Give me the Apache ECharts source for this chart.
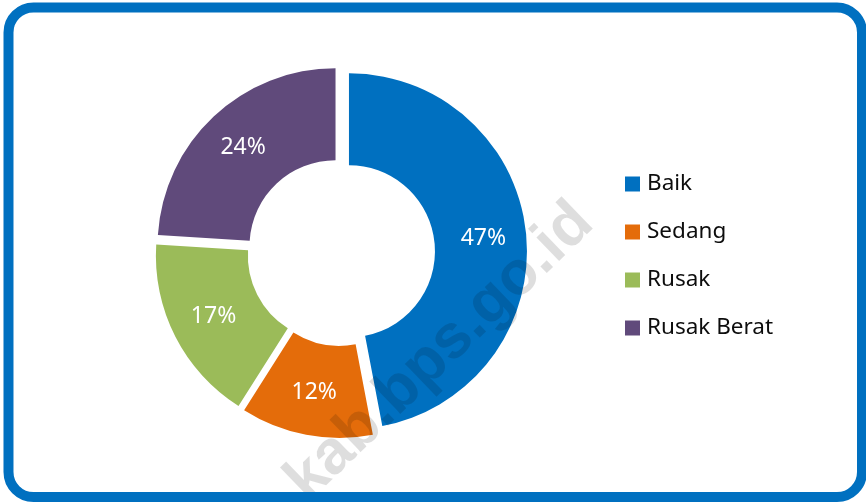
<!DOCTYPE html>
<html>
<head>
<meta charset="utf-8">
<script src="https://cdn.jsdelivr.net/npm/echarts@6/dist/echarts.min.js"></script>
<style>
html,body{margin:0;padding:0;background:#fff;}
#chart{width:866px;height:502px;}
</style>
</head>
<body>
<div id="chart"></div>
<script>
const categories = ['Baik', 'Sedang', 'Rusak', 'Rusak Berat'];
const values = [47, 12, 17, 24];
const colors = ['#0070C0', '#E46C0A', '#9BBB59', '#604A7B'];
const watermark = 'kab.bps.go.id';

const chart = echarts.init(document.getElementById('chart'), null, {renderer: 'canvas'});
const data = categories.map((name, i) => ({
  name: name,
  value: values[i],
  selected: true,
  itemStyle: {color: colors[i]}
}));

chart.setOption({
  animation: false,
  backgroundColor: '#ffffff',
  legend: {
    orient: 'vertical',
    left: 620,
    top: 167,
    icon: 'rect',
    itemWidth: 15,
    itemHeight: 15,
    itemGap: 24,
    selectedMode: false,
    data: categories,
    textStyle: {fontFamily: 'Noto Sans', fontSize: 22.5, color: '#0d0d0d', lineHeight: 24, padding: [0, 0, 0, 2]}
  },
  series: [{
    type: 'pie',
    center: [341, 252],
    radius: [86, 178],
    startAngle: 90,
    clockwise: true,
    selectedMode: 'multiple',
    selectedOffset: 8,
    avoidLabelOverlap: false,
    emphasis: {disabled: true},
    label: {
      show: true,
      position: 'inside',
      formatter: '{c}%',
      color: '#fff',
      fontFamily: 'Noto Sans',
      fontSize: 23
    },
    labelLine: {show: false},
    data: data
  }],
  graphic: [
    {
      type: 'text',
      z: 100,
      x: 440,
      y: 352,
      rotation: Math.PI / 4.1,
      style: {
        text: watermark,
        fill: 'rgba(0,0,0,0.13)',
        font: 'bold 62px "Liberation Sans", Arial, sans-serif',
        textAlign: 'center',
        textVerticalAlign: 'middle'
      }
    },
    {
      type: 'rect',
      z: 110,
      shape: {x: 8.5, y: 7.5, width: 853.5, height: 489.5, r: 25},
      style: {fill: 'none', stroke: '#0070C0', lineWidth: 10}
    }
  ]
});
</script>
</body>
</html>
